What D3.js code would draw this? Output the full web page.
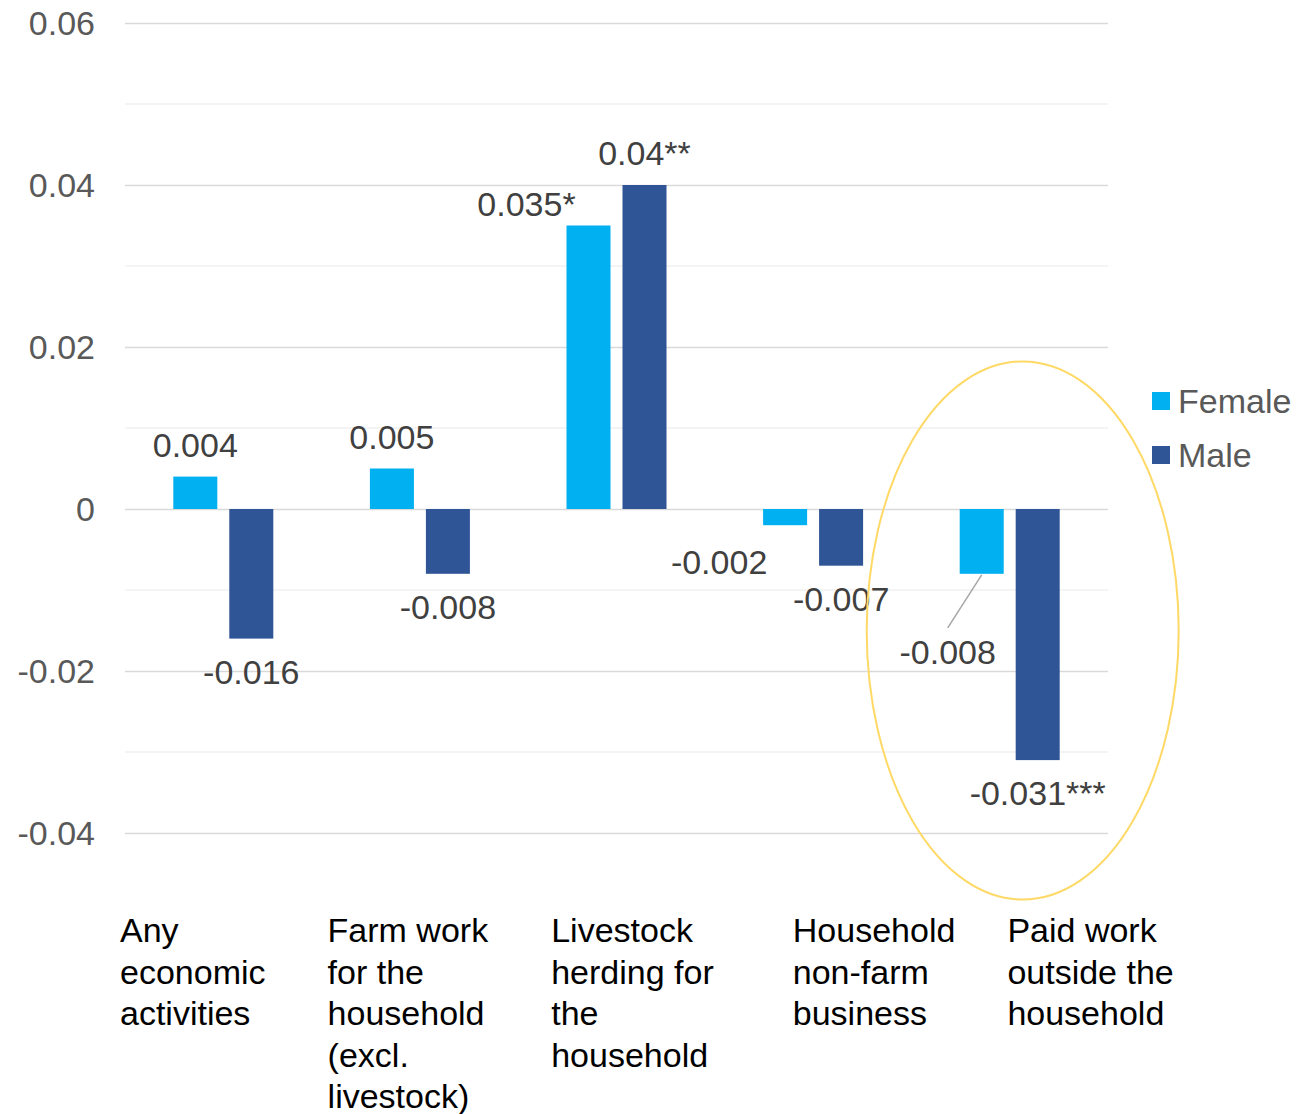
<!DOCTYPE html>
<html>
<head>
<meta charset="utf-8">
<script src="https://cdn.jsdelivr.net/npm/d3@7"></script>
<style>
  body { margin: 0; background: #fff; }
  text { font-family: "Liberation Sans", Arial, sans-serif; }
</style>
</head>
<body>
<div id="chart"></div>
<script>
const categories = [
  ['Any', 'economic', 'activities'],
  ['Farm work', 'for the', 'household', '(excl.', 'livestock)'],
  ['Livestock', 'herding for', 'the', 'household'],
  ['Household', 'non-farm', 'business'],
  ['Paid work', 'outside the', 'household']
];
const seriesNames = ['Female', 'Male'];
const femaleValues = [0.004, 0.005, 0.035, -0.002, -0.008];
const maleValues = [-0.016, -0.008, 0.04, -0.007, -0.031];
const femaleLabels = ['0.004', '0.005', '0.035*', '-0.002', '-0.008'];
const maleLabels = ['-0.016', '-0.008', '0.04**', '-0.007', '-0.031***'];
const yTicks = [-0.04, -0.02, 0, 0.02, 0.04, 0.06];
const yMinorTicks = [-0.03, -0.01, 0.01, 0.03, 0.05];

const colors = { Female: '#00B0F0', Male: '#2F5597' };

// labels that were dragged away from their bars in the original
const labelNudges = {
  'Female-2': { dx: -62, dy: 10 },
  'Female-3': { dx: -66, dy: 4 },
  'Female-4': { dx: -34, dy: 45, leader: true }
};
// left edge of each category label block, relative to band start
const catLabelOffsets = [-5, 6, 33, 78, 96];

const width = 1297;
const height = 1114;
const margins = { top: 23, left: 125, right: 189, bottom: 281 };
const fontSize = 34;

const svg = d3.select('#chart').append('svg')
  .attr('width', width)
  .attr('height', height);

const yScale = d3.scaleLinear()
  .domain([-0.04, 0.06])
  .range([height - margins.bottom, margins.top]);

const ids = categories.map((c, i) => i);
const x0 = d3.scaleBand()
  .domain(ids)
  .range([margins.left, width - margins.right])
  .padding(0);

const groupW = 100;
const x1 = d3.scaleBand()
  .domain(seriesNames)
  .range([x0.bandwidth() / 2 - groupW / 2, x0.bandwidth() / 2 + groupW / 2])
  .paddingInner(0.214)
  .paddingOuter(0);

// minor gridlines
svg.append('g')
  .selectAll('line')
  .data(yMinorTicks)
  .join('line')
  .attr('x1', margins.left)
  .attr('x2', width - margins.right)
  .attr('y1', d => yScale(d))
  .attr('y2', d => yScale(d))
  .style('stroke', '#f0f0f0')
  .style('stroke-width', 1.5);

// y axis with major gridlines
const yAxis = d3.axisRight(yScale)
  .tickValues(yTicks)
  .tickSize(width - margins.left - margins.right)
  .tickFormat(d => d === 0 ? '0' : d3.format('.2f')(d).replace('\u2212', '-'));

const yG = svg.append('g')
  .attr('class', 'yAxis')
  .attr('transform', `translate(${margins.left},0)`)
  .call(yAxis);
yG.select('.domain').remove();
yG.selectAll('.tick line')
  .style('stroke', '#d9d9d9')
  .style('stroke-width', 1.5);
yG.selectAll('.tick text')
  .attr('x', -30)
  .attr('dy', '0.35em')
  .style('text-anchor', 'end')
  .style('font-size', fontSize + 'px')
  .style('fill', '#595959');

// bars
const rows = [];
ids.forEach(i => {
  rows.push({ i, s: 'Female', v: femaleValues[i], label: femaleLabels[i] });
  rows.push({ i, s: 'Male', v: maleValues[i], label: maleLabels[i] });
});

svg.append('g')
  .selectAll('rect')
  .data(rows)
  .join('rect')
  .attr('x', d => x0(d.i) + x1(d.s))
  .attr('width', x1.bandwidth())
  .attr('y', d => Math.min(yScale(d.v), yScale(0)))
  .attr('height', d => Math.abs(yScale(d.v) - yScale(0)))
  .style('fill', d => colors[d.s]);

// data labels
const labelG = svg.append('g');
rows.forEach(d => {
  const cx = x0(d.i) + x1(d.s) + x1.bandwidth() / 2;
  const end = yScale(d.v);
  let y = d.v >= 0 ? end - 20 : end + 45;
  const nudge = labelNudges[`${d.s}-${d.i}`] || { dx: 0, dy: 0 };
  const tx = cx + nudge.dx;
  const ty = y + nudge.dy;
  if (nudge.leader) {
    labelG.append('line')
      .attr('x1', cx)
      .attr('y1', end + 1)
      .attr('x2', tx)
      .attr('y2', ty - 36)
      .style('stroke', '#a6a6a6')
      .style('stroke-width', 1.5);
  }
  labelG.append('text')
    .attr('x', tx)
    .attr('y', ty)
    .attr('text-anchor', 'middle')
    .style('font-size', fontSize + 'px')
    .style('fill', '#404040')
    .text(d.label);
});

// category labels
const catG = svg.append('g');
categories.forEach((lines, i) => {
  const t = catG.append('text')
    .attr('x', x0(i) + catLabelOffsets[i])
    .attr('y', 942)
    .style('font-size', fontSize + 'px')
    .style('fill', '#000');
  lines.forEach((ln, k) => {
    t.append('tspan')
      .attr('x', x0(i) + catLabelOffsets[i])
      .attr('y', 942 + k * 41.5)
      .text(ln);
  });
});

// highlight ellipse around paid work
const lastCx = x0(4) + x0.bandwidth() / 2;
svg.append('ellipse')
  .attr('cx', lastCx + 13)
  .attr('cy', yScale(-0.015))
  .attr('rx', 156)
  .attr('ry', 269)
  .style('fill', 'none')
  .style('stroke', '#FFD966')
  .style('stroke-width', 2);

// legend
const legend = svg.append('g')
  .attr('transform', `translate(1152,401)`);
seriesNames.forEach((s, k) => {
  const g = legend.append('g').attr('transform', `translate(0,${k * 54})`);
  g.append('rect')
    .attr('x', 0)
    .attr('y', -9)
    .attr('width', 18)
    .attr('height', 18)
    .style('fill', colors[s]);
  g.append('text')
    .attr('x', 26)
    .attr('y', 0)
    .attr('dy', '0.35em')
    .style('font-size', fontSize + 'px')
    .style('fill', '#595959')
    .text(s);
});
</script>
</body>
</html>
